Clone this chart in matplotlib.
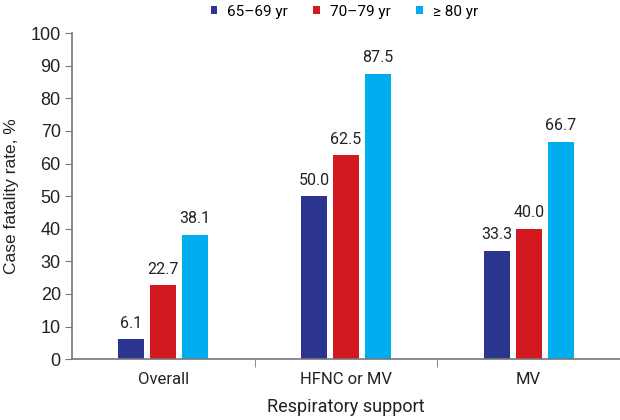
import matplotlib
matplotlib.use("Agg")
import matplotlib.pyplot as plt
import numpy as np

categories = ["Overall", "HFNC or MV", "MV"]
series_names = ["65\u201369 yr", "70\u201379 yr", "\u2265 80 yr"]
v_65_69 = [6.1, 50.0, 33.3]
v_70_79 = [22.7, 62.5, 40.0]
v_80 = [38.1, 87.5, 66.7]
yticks = [0, 10, 20, 30, 40, 50, 60, 70, 80, 90, 100]
colors = ["#2b3590", "#d2191f", "#00aeef"]

fig = plt.figure(figsize=(6.2, 4.2), dpi=100)
ax = fig.add_axes([0.116, 0.145, 0.884, 0.776])

x = np.arange(len(categories))
w = 0.142
off = 0.175
vals = [v_65_69, v_70_79, v_80]
for i, (v, c, n) in enumerate(zip(vals, colors, series_names)):
    xs = x + (i - 1) * off
    ax.bar(xs, v, width=w, color=c, label=n)
    for xi, vi in zip(xs, v):
        ax.text(xi, vi + 2.6, f"{vi:.1f}", ha="center", va="bottom",
                fontsize=11.5, family="Roboto", color="#222222")

ax.set_xlim(-0.5, 2.5)
ax.set_ylim(0, 100)
ax.set_yticks(yticks)
ax.set_yticklabels([str(t) for t in yticks], family="Liberation Sans", fontsize=13, color="#222222")
ax.set_xticks(x)
ax.set_xticklabels(categories, family="Roboto", fontsize=12, color="#222222")
ax.tick_params(axis="x", length=0, pad=9)
ax.set_xticks([0.5, 1.5], minor=True)
ax.tick_params(axis="x", which="minor", length=6, direction="out", color="#777777")
ax.tick_params(axis="y", length=5, color="#777777", pad=3)
for s in ["top", "right"]:
    ax.spines[s].set_visible(False)
for s in ["left", "bottom"]:
    ax.spines[s].set_color("#777777")
    ax.spines[s].set_linewidth(1.2)

ax.set_ylabel("Case fatality rate, %", family="Liberation Sans", fontsize=12.5, color="#222222", labelpad=8)
ax.set_xlabel("Respiratory support", family="Roboto", fontsize=13, color="#222222", labelpad=8)

leg = ax.legend(loc="upper center", bbox_to_anchor=(0.497, 1.13), ncol=3, frameon=False,
                handlelength=0.45, handleheight=0.45, handletextpad=0.65, columnspacing=1.65,
                prop={"family": "Roboto", "size": 11})

fig.savefig("out.png", dpi=100)
